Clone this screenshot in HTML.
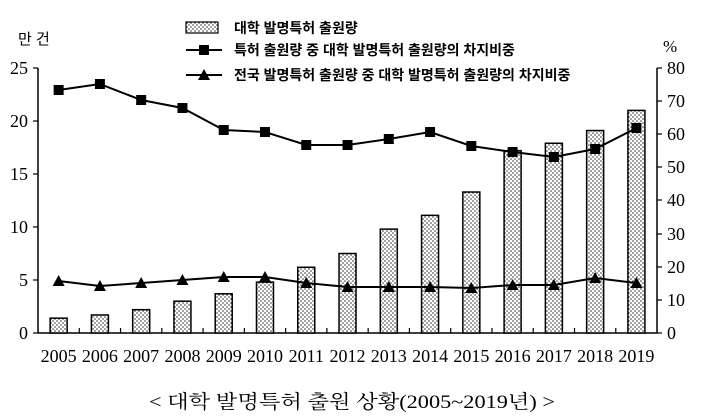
<!DOCTYPE html>
<html><head><meta charset="utf-8"><style>
body{margin:0;background:#fff}
svg{display:block}
text{font-family:"Liberation Serif","Noto Serif CJK SC",serif;fill:#000}
.k{font-family:"Liberation Sans","Noto Sans CJK KR",sans-serif}
</style></head><body>
<svg width="705" height="419" viewBox="0 0 705 419" xmlns="http://www.w3.org/2000/svg">
<defs><pattern id="dots" width="4" height="4" patternUnits="userSpaceOnUse">
<rect width="4" height="4" fill="#fff"/><circle cx="1" cy="1" r="0.8" fill="#333"/><circle cx="3" cy="3" r="0.8" fill="#333"/></pattern></defs>
<text x="18" y="44" font-size="15" class="k">만 건</text>
<text x="663" y="52" font-size="17">%</text>
<g stroke="#000" stroke-width="1.5" fill="none">
<line x1="38" y1="68" x2="38" y2="333"/>
<line x1="657" y1="68" x2="657" y2="333"/>
<line x1="38" y1="333" x2="657" y2="333"/>
</g>
<g stroke="#000" stroke-width="1.2">
<line x1="33" y1="68" x2="38" y2="68"/><line x1="33" y1="121" x2="38" y2="121"/><line x1="33" y1="174" x2="38" y2="174"/><line x1="33" y1="227" x2="38" y2="227"/><line x1="33" y1="280" x2="38" y2="280"/><line x1="33" y1="333" x2="38" y2="333"/>
<line x1="657" y1="68" x2="662" y2="68"/><line x1="657" y1="101" x2="662" y2="101"/><line x1="657" y1="134" x2="662" y2="134"/><line x1="657" y1="167" x2="662" y2="167"/><line x1="657" y1="200" x2="662" y2="200"/><line x1="657" y1="234" x2="662" y2="234"/><line x1="657" y1="267" x2="662" y2="267"/><line x1="657" y1="300" x2="662" y2="300"/><line x1="657" y1="333" x2="662" y2="333"/>
</g>
<g font-size="18" text-anchor="end">
<text x="28" y="74">25</text><text x="28" y="127">20</text><text x="28" y="180">15</text><text x="28" y="233">10</text><text x="28" y="286">5</text><text x="28" y="339">0</text>
</g>
<g font-size="18">
<text x="667" y="74">80</text><text x="667" y="107">70</text><text x="667" y="140">60</text><text x="667" y="173">50</text><text x="667" y="206">40</text><text x="667" y="240">30</text><text x="667" y="273">20</text><text x="667" y="306">10</text><text x="667" y="339">0</text>
</g>
<g id="bars" fill="url(#dots)" stroke="#000" stroke-width="1.5"></g>
<g id="ticks" stroke="#000" stroke-width="1.2"></g>
<g id="xl" font-size="18" text-anchor="middle"></g>
<polyline id="l1" fill="none" stroke="#000" stroke-width="2"/>
<polyline id="l2" fill="none" stroke="#000" stroke-width="2"/>
<g id="m"></g>
<rect x="186" y="22" width="32" height="11" fill="url(#dots)" stroke="#000" stroke-width="1.2"/>
<text x="234" y="33" font-size="14" class="k" font-weight="bold">대학 발명특허 출원량</text>
<line x1="186" y1="50" x2="222" y2="50" stroke="#000" stroke-width="2"/><rect x="199" y="45" width="10" height="10"/>
<text x="234" y="55" font-size="14" class="k" font-weight="bold">특허 출원량 중 대학 발명특허 출원량의 차지비중</text>
<line x1="186" y1="75" x2="222" y2="75" stroke="#000" stroke-width="2"/><polygon points="204,69 210,80 198,80"/>
<text x="234" y="80" font-size="14" class="k" font-weight="bold">전국 발명특허 출원량 중 대학 발명특허 출원량의 차지비중</text>
<text x="352" y="408" font-size="19" text-anchor="middle" style="font-family:'Liberation Serif','Noto Serif CJK SC',serif" textLength="406" lengthAdjust="spacingAndGlyphs">&lt; 대학 발명특허 출원 상황(2005~2019년) &gt;</text>
</svg>
<script>
var ns="http://www.w3.org/2000/svg",x0=38,w=41.27;
var b=[1.4,1.7,2.2,3.0,3.7,4.8,6.2,7.5,9.8,11.1,13.3,17.2,17.9,19.1,21.0];
var s=[90,84,100,108,130,132,145,145,139,132,146,152,157,149,128];
var t=[281,286,283,280,277,277,283,287,287,287,288,285,285,278,283];
function el(n,a,p){var e=document.createElementNS(ns,n);for(var k in a)e.setAttribute(k,a[k]);document.getElementById(p).appendChild(e);return e;}
var p1=[],p2=[];
for(var i=0;i<15;i++){var c=x0+w*(i+0.5),h=b[i]*10.6;
el("rect",{x:c-8.5,y:333-h,width:17,height:h},"bars");
if(i>0)el("line",{x1:x0+w*i,y1:328,x2:x0+w*i,y2:333},"ticks");
el("text",{x:c,y:362},"xl").textContent=2005+i;
p1.push(c+","+s[i]);p2.push(c+","+t[i]);
el("rect",{x:c-5,y:s[i]-5,width:10,height:10},"m");
el("polygon",{points:c+","+(t[i]-6)+" "+(c+6)+","+(t[i]+5)+" "+(c-6)+","+(t[i]+5)},"m");}
document.getElementById("l1").setAttribute("points",p1.join(" "));
document.getElementById("l2").setAttribute("points",p2.join(" "));
</script>
</body></html>
